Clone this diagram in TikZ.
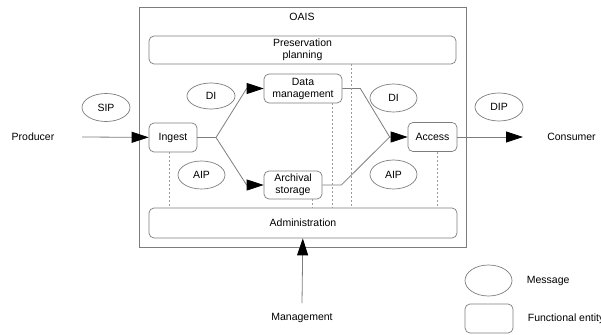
\documentclass[tikz,border=0pt]{standalone}
\usepackage{fontspec}
\setmainfont{Liberation Sans}
\usetikzlibrary{arrows.meta,positioning,shapes.geometric}
\definecolor{linegray}{RGB}{125,125,125}
\definecolor{dashgray}{RGB}{155,155,155}

\begin{document}
\begin{tikzpicture}[x=1pt, y=-1pt,
    >={Triangle[length=17pt,width=11pt,color=black]},
    every node/.append style={align=center, font=\fontsize{10.5}{12}\selectfont},
    fe/.style={draw=linegray, line width=0.7pt, rounded corners=5pt, inner sep=0pt, minimum height=29pt},
    msg/.style={draw=linegray, line width=0.7pt, ellipse, inner sep=0pt, minimum width=47pt, minimum height=28pt},
    flow/.style={draw=linegray, line width=0.8pt}]
    \tikzstyle{dline}=[draw=dashgray, line width=0.6pt, dash pattern=on 2pt off 2pt]
    \useasboundingbox (0,0) rectangle (601,334);

    % OAIS frame
    \node [draw=linegray, line width=0.7pt, minimum width=327pt, minimum height=240pt, inner sep=0pt] (oais) at (302.5,127) {};
    \node (oaistitle) at (302,17) {OAIS};

    % functional entities
    \node [fe, minimum width=307pt, minimum height=28pt] (pp) at (302.5,50) {Preservation\\planning};
    \node [fe, minimum width=78pt] (dm) at (303,88.5) {Data\\management};
    \node [fe, minimum width=48pt] (ingest) at (173,137.5) {Ingest};
    \node [fe, minimum width=58pt, minimum height=28pt] (arch) at (293,185) {Archival\\storage};
    \node [fe, minimum width=49pt] (access) at (432.5,137) {Access};
    \node [fe, minimum width=308pt, minimum height=30pt] (admin) at (303,223) {Administration};

    % messages
    \node [msg, minimum width=48pt] (sip) at (106,107.5) {SIP};
    \node [msg, minimum width=48pt, minimum height=26pt] (dileft) at (211,96) {DI};
    \node [msg] (aipleft) at (201.5,175) {AIP};
    \node [msg] (diright) at (393.5,98) {DI};
    \node [msg, minimum height=29pt] (aipright) at (393.5,174.5) {AIP};
    \node [msg, minimum width=48pt] (dip) at (499,107) {DIP};

    % outside actors
    \node (producer) at (33,137) {Producer};
    \node (consumer) at (571.5,137) {Consumer};
    \node (management) at (302,318) {Management};
    \coordinate (prodout) at (82,137);
    \coordinate (consin) at (523,137);
    \coordinate (mgmtout) at (302,303);

    % bends of the flows
    \coordinate (fork) at (216,137.5);
    \coordinate (inDM) at ([xshift=-17pt]dm.west);
    \coordinate (inAS) at ([xshift=-17pt]arch.west);
    \coordinate (outDM) at ([xshift=18pt]dm.east);
    \coordinate (outAS) at ([xshift=19pt]arch.east);
    \coordinate (inAC) at ([xshift=-18pt]access.west);

    \draw[flow, ->] (prodout) -- (ingest);
    \draw[flow] (ingest) -- (fork);
    \draw[flow, ->] (fork) -- (inDM) -- (dm);
    \draw[flow, ->] (fork) -- (inAS) -- (arch);
    \draw[flow, ->] (dm) -- (outDM) -- (inAC) -- (access);
    \draw[flow] (arch) -- (outAS) -- (inAC);
    \draw[flow, ->] (access) -- (consin);
    \draw[flow, ->] (mgmtout) -- (admin);

    % links down to administration
    \draw[dline] ([xshift=-4pt]ingest.south) -- ([xshift=-4pt]ingest.south |- admin.north);
    \draw[dline] ([xshift=29pt]dm.south) -- ([xshift=29pt]dm.south |- admin.north);
    \draw[dline] ([xshift=19pt]arch.south) -- ([xshift=19pt]arch.south |- admin.north);
    \draw[dline] ([xshift=4.5pt]access.south) -- ([xshift=4.5pt]access.south |- admin.north);
    \draw[dline] ([xshift=48.5pt]pp.south) -- ([xshift=48.5pt]pp.south |- admin.north);

    % legend
    \node [msg, minimum height=31pt] (legmsg) at (488.5,280.5) {};
    \node [right=11pt of legmsg] (legmsgtext) {Message};
    \node [fe, minimum width=48pt] (legfe) at (489,318.5) {};
    \node [right=11pt of legfe] (legfetext) {Functional entity};
\end{tikzpicture}
\end{document}
